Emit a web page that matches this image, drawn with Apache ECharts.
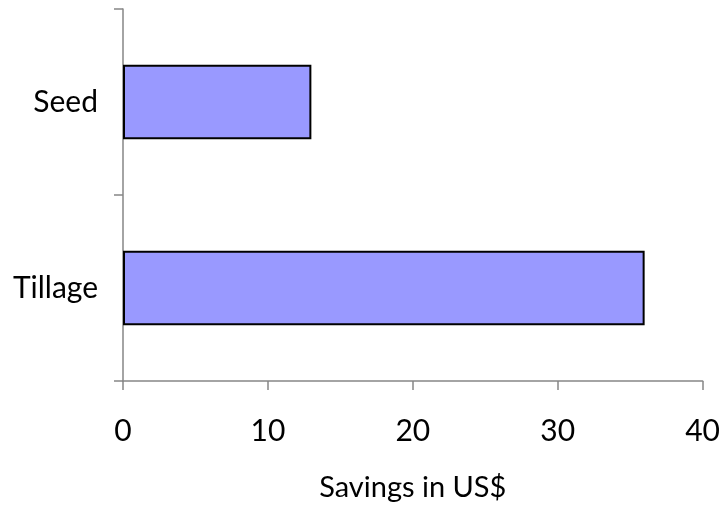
<!DOCTYPE html>
<html>
<head>
<meta charset="utf-8">
<script src="https://cdn.jsdelivr.net/npm/echarts@6/dist/echarts.min.js"></script>
<style>
  html, body { margin: 0; padding: 0; background: #fff; }
  #chart { width: 723px; height: 508px; }
</style>
</head>
<body>
<div id="chart"></div>
<script>
// categories bottom -> top
const categories = ['Tillage', 'Seed'];
const savings = [36, 13];
const xTicks = [0, 10, 20, 30, 40];

const chart = echarts.init(document.getElementById('chart'));

chart.setOption({
  animation: false,
  textStyle: { fontFamily: 'Lato' },
  grid: { left: 123, right: 17, top: 9, bottom: 127 },
  xAxis: {
    type: 'value',
    min: xTicks[0],
    max: xTicks[xTicks.length - 1],
    interval: 10,
    name: 'Savings in US$',
    nameLocation: 'middle',
    nameGap: 92,
    nameTextStyle: { fontSize: 29, color: '#000', fontFamily: 'Lato' },
    axisLine: { show: true, lineStyle: { color: '#868686', width: 1.5 } },
    axisTick: { show: true, length: 9, lineStyle: { color: '#868686', width: 1.5 } },
    axisLabel: { fontSize: 30, color: '#000', margin: 35, fontFamily: 'Lato' },
    splitLine: { show: false }
  },
  yAxis: {
    type: 'category',
    data: categories,
    axisLine: { show: true, lineStyle: { color: '#868686', width: 1.5 } },
    axisTick: { show: true, length: 9, lineStyle: { color: '#868686', width: 1.5 } },
    axisLabel: { fontSize: 30, color: '#000', margin: 25, fontFamily: 'Lato' }
  },
  series: [{
    type: 'bar',
    data: savings,
    barCategoryGap: '60%',
    itemStyle: { color: '#9999FF', borderColor: '#000', borderWidth: 2 }
  }]
});
</script>
</body>
</html>
